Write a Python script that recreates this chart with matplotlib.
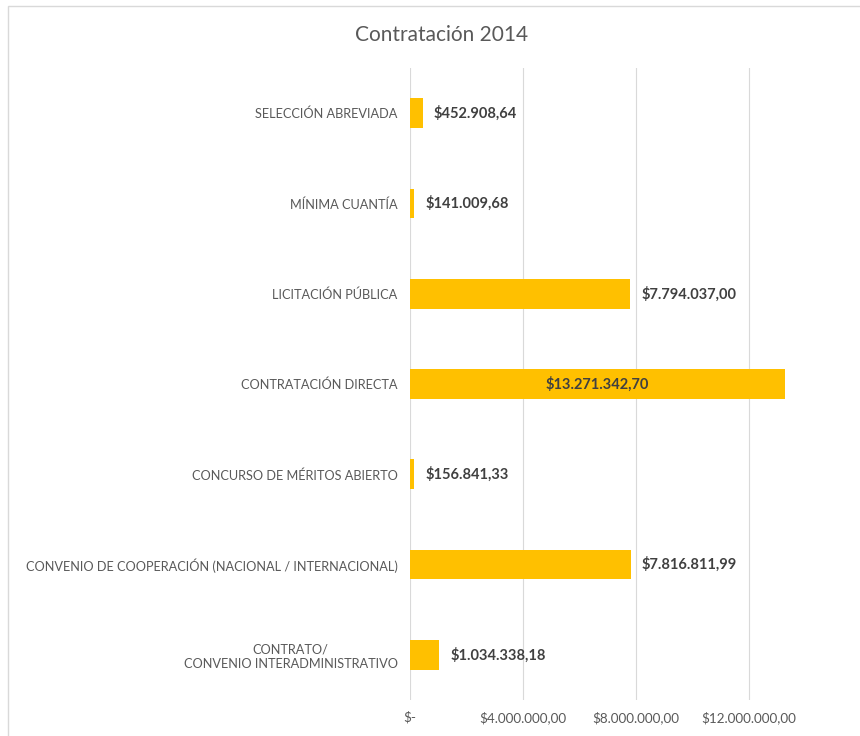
import matplotlib
matplotlib.use("Agg")
import matplotlib.pyplot as plt
from matplotlib.patches import Rectangle

categorias = [
    "SELECCIÓN ABREVIADA",
    "MÍNIMA CUANTÍA",
    "LICITACIÓN PÚBLICA",
    "CONTRATACIÓN DIRECTA",
    "CONCURSO DE MÉRITOS ABIERTO",
    "CONVENIO DE COOPERACIÓN (NACIONAL / INTERNACIONAL)",
    "CONTRATO/\nCONVENIO INTERADMINISTRATIVO",
]
valores = [452908.64, 141009.68, 7794037.00, 13271342.70, 156841.33, 7816811.99, 1034338.18]
etiquetas = ["$452.908,64", "$141.009,68", "$7.794.037,00", "$13.271.342,70",
             "$156.841,33", "$7.816.811,99", "$1.034.338,18"]
ticks = [0, 4000000, 8000000, 12000000]
tick_labels = ["$-", "$4.000.000,00", "$8.000.000,00", "$12.000.000,00"]

plt.rcParams['font.family'] = ['Lato', 'DejaVu Sans']
gris = '#595959'

fig = plt.figure(figsize=(8.6, 7.36), dpi=100)
ax = fig.add_axes([410 / 860, 36 / 736, 432 / 860, 632 / 736])

pos = list(range(len(categorias)))[::-1]
ax.barh(pos, valores, height=0.33, color='#FFC000', zorder=3)

ax.set_xlim(0, 15300000)
ax.set_ylim(-0.5, len(categorias) - 0.5)
ax.set_yticks(pos)
ax.set_yticklabels(categorias, fontsize=9.2, color=gris, multialignment='center')
ax.set_xticks(ticks)
ax.set_xticklabels(tick_labels, fontsize=9.7, color=gris)
ax.tick_params(axis='both', length=0)
ax.tick_params(axis='y', pad=9)
ax.tick_params(axis='x', pad=8)
ax.grid(axis='x', color='#D9D9D9', linewidth=0.8, zorder=0)
for s in ax.spines.values():
    s.set_visible(False)

for p, v, t in zip(pos, valores, etiquetas):
    if v > 12000000:
        ax.text(v / 2, p, t, ha='center', va='center', fontsize=10.5,
                fontweight='bold', color='#404040', zorder=4)
    else:
        ax.annotate(t, (v, p), xytext=(8, 0), textcoords='offset points',
                    ha='left', va='center', fontsize=10.5, fontweight='bold',
                    color='#404040', zorder=4)

fig.text(442 / 860, 1 - 35 / 736, "Contratación 2014", ha='center', va='center',
         fontsize=15, color=gris)

# borde del gráfico
fig.patches.append(Rectangle((8 / 860, -0.01), 1.0, 1 - 6 / 736 + 0.01,
                             transform=fig.transFigure, fill=False,
                             edgecolor='#D9D9D9', linewidth=1))

fig.savefig("out.png", dpi=100)
